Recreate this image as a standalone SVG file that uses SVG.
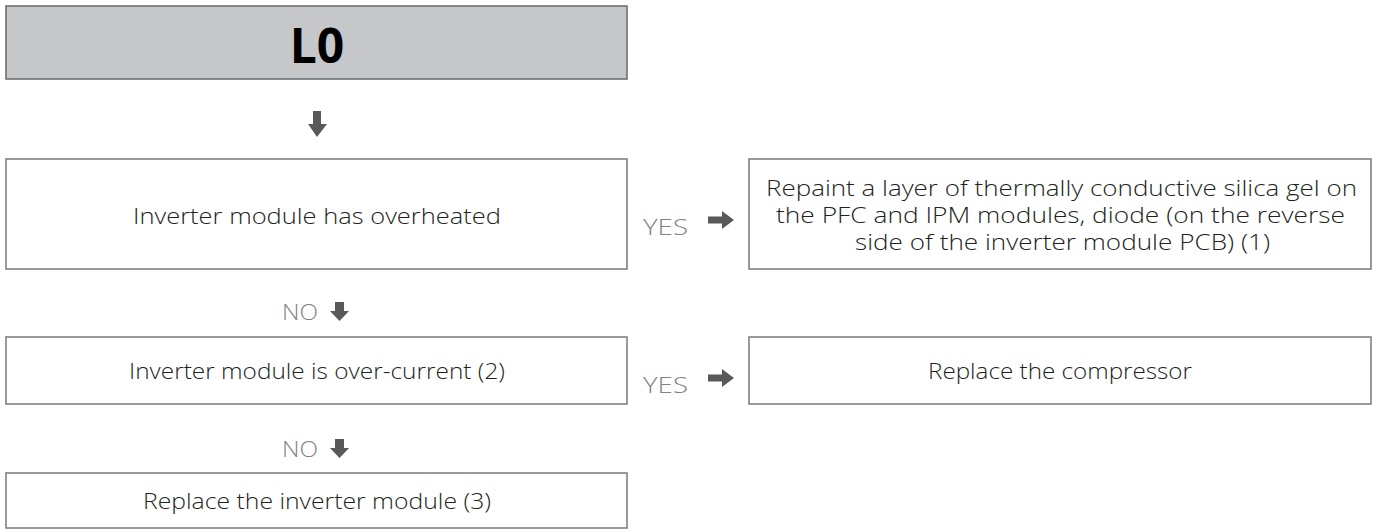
<svg xmlns="http://www.w3.org/2000/svg" width="1381" height="532" viewBox="0 0 1381 532">
<style>
.box{fill:#ffffff;stroke:#808184;stroke-width:1.6}
.title{fill:#c6c7c9;stroke:#6d6e71;stroke-width:1.6}
.t{font-family:"Open Sans","Liberation Sans",sans-serif;font-weight:300;font-size:22px;fill:#231f20;text-anchor:middle}
.lbl{font-family:"Open Sans","Liberation Sans",sans-serif;font-weight:300;font-size:22px;fill:#808184}
.arr{fill:#58595b}
.h{font-family:"Open Sans","Liberation Sans",sans-serif;font-weight:700;font-size:48px;fill:#000000;text-anchor:middle}
</style>
<rect width="1381" height="532" fill="#ffffff"/>
<g id="title">
<rect class="title" x="6" y="6" width="621" height="73"/>
<text class="h" x="317" y="63">L0</text>
</g>
<g id="n1">
<rect class="box" x="6" y="159" width="621" height="110"/>
<text class="t" x="317" y="224" textLength="368" lengthAdjust="spacingAndGlyphs">Inverter module has overheated</text>
</g>
<g id="n2">
<rect class="box" x="749" y="159" width="622" height="110"/>
<text class="t" x="1061.5" y="196" textLength="591" lengthAdjust="spacingAndGlyphs">Repaint a layer of thermally conductive silica gel on</text>
<text class="t" x="1060.5" y="223" textLength="569" lengthAdjust="spacingAndGlyphs">the PFC and IPM modules, diode (on the reverse</text>
<text class="t" x="1062.5" y="250" textLength="415" lengthAdjust="spacingAndGlyphs">side of the inverter module PCB) (1)</text>
</g>
<g id="n3">
<rect class="box" x="6" y="337" width="621" height="67"/>
<text class="t" x="317" y="379" textLength="376" lengthAdjust="spacingAndGlyphs">Inverter module is over-current (2)</text>
</g>
<g id="n4">
<rect class="box" x="749" y="337" width="622" height="67"/>
<text class="t" x="1060" y="379" textLength="264" lengthAdjust="spacingAndGlyphs">Replace the compressor</text>
</g>
<g id="n5">
<rect class="box" x="6" y="473" width="621" height="55"/>
<text class="t" x="317" y="509" textLength="348" lengthAdjust="spacingAndGlyphs">Replace the inverter module (3)</text>
</g>
<g id="connectors">
<path class="arr" d="M313,111 H321 V124 H327 L317,137 L308,124 H313 Z"/>
<text class="lbl" x="643" y="235" textLength="45" lengthAdjust="spacingAndGlyphs">YES</text>
<path class="arr" d="M708,216.5 H722 V211 L734,220 L722,229 V223.5 H708 Z"/>
<text class="lbl" x="282" y="320" textLength="36" lengthAdjust="spacingAndGlyphs">NO</text>
<path class="arr" d="M335,302 H344 V311 H349 L339.5,321 L330,311 H335 Z"/>
<text class="lbl" x="643" y="393" textLength="45" lengthAdjust="spacingAndGlyphs">YES</text>
<path class="arr" d="M708,374.5 H722 V369 L734,378 L722,387 V381.5 H708 Z"/>
<text class="lbl" x="282" y="457" textLength="36" lengthAdjust="spacingAndGlyphs">NO</text>
<path class="arr" d="M335,439 H344 V448 H349 L339.5,458 L330,448 H335 Z"/>
</g>
</svg>
